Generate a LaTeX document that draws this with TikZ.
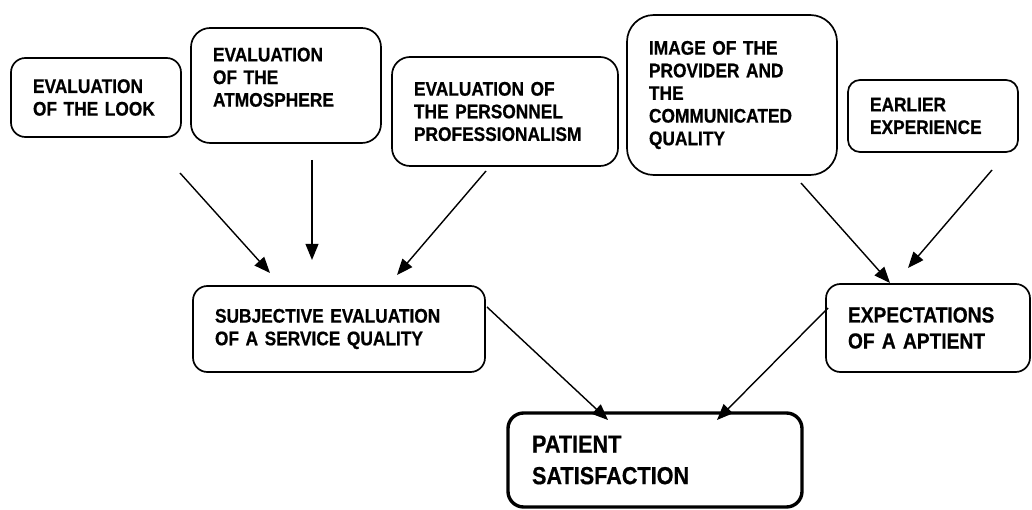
\documentclass[tikz,border=0pt]{standalone}
\usepackage{fontspec}
\setmainfont{Liberation Sans}[FakeStretch=0.88,FakeBold=0.6,WordSpace=0.8]
\usetikzlibrary{arrows.meta}
\usetikzlibrary{positioning}

\begin{document}
\begin{tikzpicture}[
  factor/.style={draw, line width=1.2pt, rounded corners=0.36cm,
    inner xsep=0.55cm, inner ysep=0pt, align=left,
    font=\fontsize{14}{16.1}\selectfont\bfseries},
  flow/.style={line width=1pt, -{Triangle[length=0.4cm,width=0.32cm]}}]
 \useasboundingbox (0,0) rectangle (25.8,12.725);
 \node[factor, minimum height=1.975cm, text width=3.15cm]
   (look) at (2.4,10.2875) {EVALUATION\\OF THE LOOK};
 \node[factor, minimum height=2.875cm, text width=3.65cm, rounded corners=0.48cm]
   (atmo) at (7.15,10.5875) {EVALUATION\\OF THE\\ATMOSPHERE\\[-0.15cm]\mbox{}};
 \node[factor, minimum height=2.725cm, text width=4.55cm, rounded corners=0.45cm]
   (staff) at (12.625,9.9375) {EVALUATION OF\\THE PERSONNEL\\PROFESSIONALISM};
 \node[factor, minimum height=4.0cm, text width=4.15cm, rounded corners=0.67cm]
   (image) at (18.3,10.35) {IMAGE OF THE\\PROVIDER AND\\THE\\COMMUNICATED\\QUALITY};
 \node[factor, minimum height=1.8cm, text width=3.15cm, rounded corners=0.3cm]
   (past) at (23.325,9.825) {EARLIER\\EXPERIENCE};
 \node[factor, minimum height=2.15cm, text width=6.2cm]
   (subj) at (8.475,4.5) {SUBJECTIVE EVALUATION\\OF A SERVICE QUALITY};
 \node[factor, minimum height=2.2cm, text width=4.0cm,
   font=\fontsize{15.5}{18.5}\selectfont\bfseries]
   (expect) at (23.2,4.525) {EXPECTATIONS\\OF A APTIENT};
 \node[factor, minimum height=2.35cm, text width=6.15cm, line width=2.4pt,
   rounded corners=0.39cm, inner xsep=0.6cm,
   font=\fontsize{17.5}{22.5}\selectfont\bfseries]
   (sat) at (16.375,1.225) {PATIENT\\SATISFACTION};

 \coordinate (look-out) at (4.5,8.4);
 \coordinate (look-in) at (6.75,5.9);
 \coordinate (atmo-out) at (7.8,8.725);
 \coordinate (atmo-in) at (7.8,6.225);
 \coordinate (staff-out) at (12.15,8.45);
 \coordinate (staff-in) at (9.925,5.85);
 \coordinate (image-out) at (20.025,8.15);
 \coordinate (image-in) at (22.25,5.65);
 \coordinate (past-out) at (24.8,8.475);
 \coordinate (past-in) at (22.7,6.025);
 \coordinate (subj-out) at (12.175,5.05);
 \coordinate (subj-in) at (15.2,2.225);
 \coordinate (expect-out) at (20.7,5.025);
 \coordinate (expect-in) at (17.925,2.225);

 \draw[flow] (look-out) -- (look-in);
 \draw[flow] (atmo-out) -- (atmo-in);
 \draw[flow] (staff-out) -- (staff-in);
 \draw[flow] (image-out) -- (image-in);
 \draw[flow] (past-out) -- (past-in);
 \draw[flow] (subj-out) -- (subj-in);
 \draw[flow] (expect-out) -- (expect-in);
\end{tikzpicture}
\end{document}
